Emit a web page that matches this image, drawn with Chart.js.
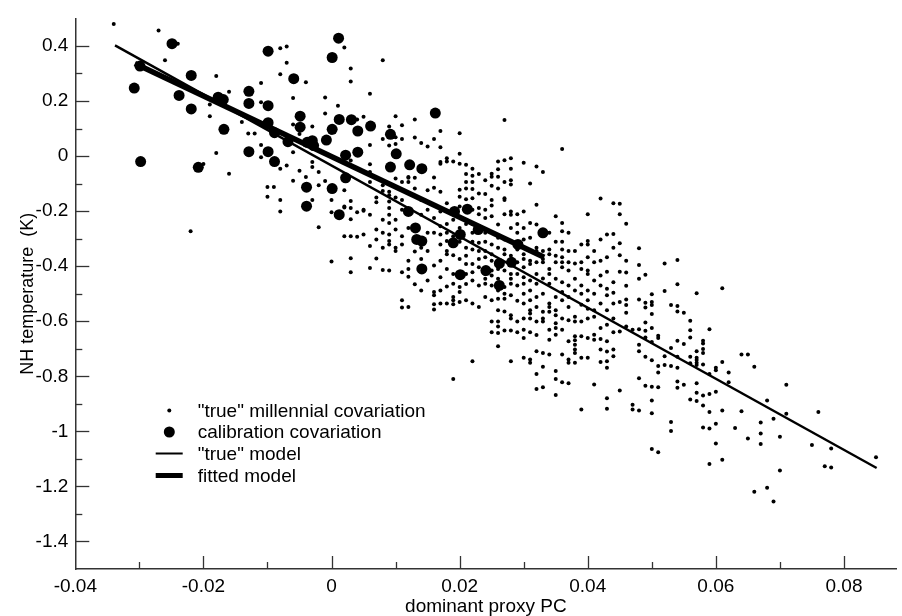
<!DOCTYPE html>
<html><head><meta charset="utf-8">
<script src="https://cdn.jsdelivr.net/npm/chart.js@4.4.1/dist/chart.umd.min.js"></script>
<style>html,body{margin:0;padding:0;background:#fff;} #wrap{width:902px;height:616px;position:relative;}</style>
</head><body><div id="wrap"><canvas id="c" width="902" height="616"></canvas></div>
<script>
const xMajorTicks = [-0.04, -0.02, 0, 0.02, 0.04, 0.06, 0.08];
const xMinorTicks = [-0.03, -0.01, 0.01, 0.03, 0.05, 0.07];
const yMajorTicks = [-1.4, -1.2, -1, -0.8, -0.6, -0.4, -0.2, 0, 0.2, 0.4];
const yMinorTicks = [-1.3, -1.1, -0.9, -0.7, -0.5, -0.3, -0.1, 0.1, 0.3];
const legendLabels = ['"true" millennial covariation', 'calibration covariation', '"true" model', 'fitted model'];
const xTitle = 'dominant proxy PC';
const yTitle = 'NH temperature  (K)';
const trueModelX = [-0.0338, 0.0851];
const trueModelY = [0.402, -1.133];
const fittedModelX = [-0.0307, 0.0332];
const fittedModelY = [0.336, -0.368];
const calibrationPts = [
[-0.0249,0.408],[-0.0299,0.327],[-0.0308,0.247],[-0.0298,-0.020],[-0.0219,0.293],[-0.0238,0.220],[-0.0219,0.171],
[-0.0177,0.214],[-0.0169,0.205],[-0.0168,0.097],[-0.0208,-0.041],[-0.0099,0.381],[-0.0059,0.281],[-0.0129,0.235],
[-0.0129,0.191],[-0.0099,0.183],[-0.0099,0.121],[-0.0089,0.085],[-0.0129,0.016],[-0.0099,0.016],[-0.0089,-0.020],
[-0.0068,0.052],[-0.0049,0.145],[-0.0049,0.105],[-0.0038,0.050],[-0.0028,0.038],[-0.0039,-0.113],[-0.0039,-0.182],
[0.0001,-0.118],[0.0012,-0.213],[0.0011,0.428],[0.0001,0.358],[-0.0008,0.058],[0.0001,0.097],[0.0012,0.133],
[0.0022,0.003],[0.0022,-0.079],[0.0031,0.132],[0.0041,0.091],[0.0061,0.109],[0.0162,0.156],[0.0092,0.079],
[0.0101,0.008],[0.0041,0.014],[-0.0030,0.056],[0.0092,-0.040],[0.0122,-0.032],[0.0141,-0.046],[0.0120,-0.201],
[0.0131,-0.261],[0.0133,-0.303],[0.0141,-0.309],[0.0141,-0.410],[0.0192,-0.201],[0.0212,-0.193],[0.0201,-0.285],
[0.0190,-0.315],[0.0201,-0.431],[0.0229,-0.267],[0.0241,-0.416],[0.0262,-0.390],[0.0281,-0.386],[0.0262,-0.470],
[0.0291,-0.321],[0.0330,-0.279]
];
const millennialColumns = [
[-0.034,[0.48]],[-0.027,[0.456]],[-0.026,[0.348]],[-0.024,[0.408]],[-0.022,[-0.273]],[-0.020,[-0.029]],
[-0.019,[0.187,0.145]],[-0.018,[0.291,0.011]],[-0.016,[0.234,-0.064]],[-0.014,[0.124]],[-0.013,[0.082]],[-0.012,[0.082]],
[-0.011,[0.265,0.195,0.040,-0.004]],[-0.010,[-0.112,-0.148]],[-0.009,[-0.112]],
[-0.008,[0.392,0.297,-0.160,-0.201,-0.046]],[-0.007,[0.398,0.339,-0.034]],[-0.006,[0.211,0.115,0.014,-0.090]],
[-0.005,[0.080,-0.053]],[-0.004,[0.268,-0.076]],[-0.003,[-0.022,-0.040,0.107,-0.160]],[-0.002,[-0.058,-0.106,-0.259]],
[-0.001,[0.213,0.155,-0.091]],[0,[0.085,-0.160,-0.204,-0.383]],[0.001,[0.183]],
[0.002,[0.394,-0.187,-0.291,-0.124,-0.183]],[0.003,[0.318,0.271,-0.163,-0.189,-0.230,-0.371,-0.422,-0.016,-0.291]],
[0.004,[0.133,-0.293,-0.204]],[0.005,[0.143,-0.195,-0.199,-0.285]],
[0.006,[0.226,0.121,0.040,-0.030,-0.058,-0.094,-0.213,-0.327,-0.407]],[0.007,[-0.151,-0.168,-0.267,-0.303,-0.372]],
[0.008,[0.348,-0.106,-0.127,0.062,-0.231,-0.279,-0.333,-0.414]],
[0.009,[0.107,0.038,-0.165,-0.189,-0.130,-0.142,-0.213,-0.243,-0.285,-0.309,-0.321,-0.416]],
[0.010,[0.145,0.044,0.014,-0.082,-0.151,0.068,-0.231,-0.267,-0.333,-0.345]],
[0.011,[0.112,0.062,-0.094,-0.160,-0.195,-0.291,-0.321,-0.422,-0.524,-0.550]],
[0.012,[-0.079,-0.094,-0.076,-0.261,-0.380,-0.410,-0.438,-0.548]],
[0.013,[0.133,0.067,-0.118,-0.079,-0.347,-0.466]],[0.014,[0.047,-0.160,-0.213,-0.333,-0.374,-0.488]],
[0.015,[0.035,-0.124,-0.195,-0.279,-0.345,-0.452]],
[0.016,[0.062,-0.078,-0.115,-0.225,-0.279,-0.398,-0.494,-0.506,-0.538,-0.557]],
[0.017,[0.091,0.032,-0.028,-0.130,-0.201,-0.255,-0.321,-0.440,-0.536,-0.022]],
[0.018,[-0.008,-0.020,-0.171,-0.309,-0.345,-0.357,-0.410,-0.474,-0.536]],
[0.019,[-0.020,-0.231,-0.291,-0.309,-0.428,-0.464,-0.512,-0.524,-0.538,-0.810]],
[0.020,[0.083,0.008,-0.122,-0.148,-0.261,-0.374,-0.476,-0.494,-0.028]],
[0.021,[-0.032,-0.094,-0.157,-0.333,-0.362,-0.392,-0.428,-0.524,-0.118]],
[0.022,[-0.072,-0.094,-0.120,-0.195,-0.339,-0.392,-0.422,-0.452,-0.536,-0.745,-0.153]],
[0.023,[-0.065,-0.189,-0.267,-0.315,-0.374,-0.404,-0.470,-0.548,-0.136]],
[0.024,[-0.088,-0.138,-0.195,-0.225,-0.279,-0.345,-0.368,-0.428,-0.446,-0.464,-0.512]],
[0.025,[-0.075,-0.108,-0.160,-0.180,-0.219,-0.321,-0.357,-0.380,-0.416,-0.434,-0.470,-0.601,-0.064]],
[0.026,[-0.020,-0.048,-0.075,-0.249,-0.297,-0.333,-0.410,-0.446,-0.488,-0.518,-0.601,-0.619,-0.643,-0.691]],
[0.027,[0.131,-0.015,-0.160,-0.303,-0.339,-0.357,-0.476,-0.500,-0.518,-0.634,-0.153]],
[0.028,[-0.008,-0.088,-0.103,-0.201,-0.213,-0.261,-0.309,-0.362,-0.428,-0.446,-0.464,-0.506,-0.578,-0.590,-0.634,-0.745]],
[0.029,[-0.321,-0.339,-0.386,-0.428,-0.470,-0.526,-0.601]],
[0.030,[-0.024,-0.201,-0.261,-0.303,-0.357,-0.374,-0.404,-0.440,-0.464,-0.500,-0.536,-0.631,-0.661,-0.733]],
[0.031,[-0.100,-0.243,-0.297,-0.380,-0.392,-0.452,-0.488,-0.560,-0.572,-0.590,-0.739,-0.751]],
[0.032,[-0.038,-0.177,-0.249,-0.333,-0.345,-0.386,-0.428,-0.464,-0.512,-0.548,-0.601,-0.709,-0.792,-0.846]],
[0.033,[-0.058,-0.345,-0.374,-0.386,-0.500,-0.566,-0.590,-0.601,-0.715,-0.765,-0.840]],
[0.034,[-0.339,-0.357,-0.410,-0.428,-0.464,-0.536,-0.548,-0.566,-0.631,-0.667,-0.721]],
[0.035,[-0.219,-0.362,-0.386,-0.446,-0.512,-0.560,-0.578,-0.607,-0.625,-0.649,-0.781,-0.810,-0.868]],
[0.036,[0.026,-0.243,-0.273,-0.339,-0.368,-0.386,-0.404,-0.458,-0.494,-0.524,-0.590,-0.631,-0.721,-0.822]],
[0.037,[-0.345,-0.386,-0.416,-0.470,-0.512,-0.548,-0.596,-0.673,-0.739,-0.751,-0.825]],
[0.038,[-0.345,-0.446,-0.488,-0.584,-0.601,-0.655,-0.669,-0.685,-0.703,-0.715,-0.751]],
[0.039,[-0.321,-0.386,-0.410,-0.470,-0.500,-0.601,-0.655,-0.733,-0.921]],
[0.040,[-0.211,-0.309,-0.321,-0.368,-0.416,-0.428,-0.488,-0.524,-0.590,-0.661,-0.733]],
[0.041,[-0.386,-0.452,-0.500,-0.560,-0.584,-0.649,-0.667,-0.830]],
[0.042,[-0.154,-0.303,-0.434,-0.470,-0.536,-0.625,-0.703,-0.748]],
[0.043,[-0.285,-0.368,-0.482,-0.506,-0.613,-0.673,-0.745,-0.769,-0.880,-0.918]],
[0.044,[-0.283,-0.333,-0.458,-0.536,-0.590,-0.703,-0.727,-0.171]],
[0.045,[-0.173,-0.211,-0.317,-0.360,-0.530,-0.637,-0.852]],
[0.046,[-0.246,-0.423,-0.471,-0.521,-0.541,-0.569,-0.619]],
[0.047,[-0.631,-0.903,-0.921]],
[0.048,[-0.335,-0.396,-0.446,-0.521,-0.629,-0.685,-0.709,-0.807,-0.924]],
[0.049,[-0.431,-0.533,-0.550,-0.605,-0.635,-0.659,-0.729,-0.834]],
[0.050,[-0.502,-0.530,-0.541,-0.574,-0.625,-0.675,-0.742,-0.838,-0.888,-0.934,-1.064]],
[0.051,[-0.653,-0.661,-0.763,-0.786,-0.840,-1.076]],
[0.052,[-0.390,-0.490,-0.727,-0.759]],
[0.053,[-0.541,-0.697,-0.763,-0.966,-0.999]],
[0.054,[-0.378,-0.466,-0.545,-0.565,-0.671,-0.729,-0.769,-0.819,-0.842]],
[0.055,[-0.569,-0.683,-0.831]],
[0.056,[-0.598,-0.633,-0.659,-0.729,-0.753,-0.884]],
[0.057,[-0.498,-0.709,-0.733,-0.741,-0.751,-0.759,-0.825,-0.860,-0.890]],
[0.058,[-0.671,-0.681,-0.701,-0.715,-0.757,-0.870,-0.906,-0.986]],
[0.059,[-0.629,-0.792,-0.864,-0.930,-0.990,-1.119]],
[0.060,[-0.769,-0.778,-0.856,-0.972,-1.044]],
[0.061,[-0.480,-0.748,-0.924,-1.103]],
[0.062,[-0.786,-0.822]],[0.063,[-0.988]],[0.064,[-0.721,-0.927]],[0.065,[-0.721,-1.026]],[0.066,[-0.765,-1.219]],
[0.067,[-0.968,-1.008,-1.046]],[0.068,[-0.888,-1.205]],[0.069,[-0.954,-1.255]],[0.070,[-1.020,-1.142]],
[0.071,[-0.831,-0.936]],[0.075,[-1.050]],[0.076,[-0.930]],[0.077,[-1.127]],[0.078,[-1.062,-1.131]],[0.085,[-1.094]]
];
// further readings from the dense centre of the cloud
const millennialColumnsDense = [
[0.017,[-0.285,-0.380,-0.488]],[0.018,[-0.247,-0.279]],[0.019,[-0.360]],[0.020,[-0.183,-0.311,-0.420,-0.530]],
[0.021,[-0.065,-0.247,-0.465]],[0.022,[-0.046,-0.247,-0.279,-0.311]],[0.023,[-0.211,-0.345]],[0.024,[-0.311]],
[0.025,[-0.524,-0.640]],[0.026,[-0.118,-0.560]],[0.027,[-0.094,-0.211,-0.416,-0.565]],[0.028,[-0.046]],
[0.029,[-0.211,-0.247,-0.279,-0.640]],[0.030,[-0.590]],[0.031,[-0.345,-0.524,-0.640]],[0.032,[-0.650]],
[0.033,[-0.279,-0.445]],[0.034,[-0.279]],[0.035,[-0.311]],[0.036,[-0.311]],[0.037,[-0.279]],[0.038,[-0.390]],
[0.039,[-0.540]],[0.040,[-0.555]],[0.041,[-0.345]],[0.042,[-0.380,-0.665]],[0.043,[-0.420,-0.560,-0.710]],
[0.044,[-0.497,-0.640]],[0.045,[-0.420]],[0.046,[-0.380]]
];

const millennialData = [];
millennialColumns.concat(millennialColumnsDense).forEach(([x, ys]) => ys.forEach(y => millennialData.push({x, y})));
const calibrationData = calibrationPts.map(([x, y]) => ({x, y}));
const trueModelData = trueModelX.map((x, i) => ({x, y: trueModelY[i]}));
const fittedModelData = fittedModelX.map((x, i) => ({x, y: fittedModelY[i]}));

const FONT = 'Liberation Sans, Arial, Helvetica, sans-serif';
const near = (a, b) => Math.abs(a - b) < 1e-7;
const xAllTicks = xMajorTicks.concat(xMinorTicks).sort((a, b) => a - b);
const yAllTicks = yMajorTicks.concat(yMinorTicks).sort((a, b) => a - b);

const axisDecor = {
  id: 'axisDecor',
  afterDraw(chart) {
    const ctx = chart.ctx, xs = chart.scales.x, ys = chart.scales.y, a = chart.chartArea;
    ctx.save();
    ctx.strokeStyle = '#333';
    ctx.lineWidth = 1.3;
    xAllTicks.forEach(v => {
      if (near(v, xs.min)) return;
      const major = xMajorTicks.some(m => near(m, v));
      const px = Math.round(xs.getPixelForValue(v)) + 0.5;
      ctx.beginPath(); ctx.moveTo(px, a.bottom); ctx.lineTo(px, a.bottom - (major ? 13 : 7)); ctx.stroke();
    });
    yAllTicks.forEach(v => {
      const major = yMajorTicks.some(m => near(m, v));
      const py = Math.round(ys.getPixelForValue(v)) + 0.5;
      ctx.beginPath(); ctx.moveTo(a.left, py); ctx.lineTo(a.left + (major ? 14 : 7), py); ctx.stroke();
    });
    // legend
    const lx = 155.7, lx2 = 182.7, cx = 169.3, tx = 197.7;
    const rows = [410.5, 432, 453.5, 475.5];
    ctx.fillStyle = '#000';
    ctx.beginPath(); ctx.arc(cx, rows[0], 2, 0, Math.PI * 2); ctx.fill();
    ctx.beginPath(); ctx.arc(cx, rows[1], 5.5, 0, Math.PI * 2); ctx.fill();
    ctx.strokeStyle = '#000';
    ctx.lineWidth = 2; ctx.beginPath(); ctx.moveTo(lx, rows[2]); ctx.lineTo(lx2, rows[2]); ctx.stroke();
    ctx.lineWidth = 5; ctx.beginPath(); ctx.moveTo(lx, rows[3]); ctx.lineTo(lx2, rows[3]); ctx.stroke();
    ctx.font = '19px ' + FONT;
    ctx.textBaseline = 'middle';
    ctx.textAlign = 'left';
    legendLabels.forEach((s, i) => ctx.fillText(s, tx, rows[i] + 1));
    ctx.restore();
  }
};

new Chart(document.getElementById('c'), {
  type: 'scatter',
  data: {
    datasets: [
      {label: legendLabels[2], data: trueModelData, showLine: true, borderColor: '#000', borderWidth: 2.4, pointRadius: 0, order: 0},
      {label: legendLabels[3], data: fittedModelData, showLine: true, borderColor: '#000', borderWidth: 5.5, pointRadius: 0, order: 0, borderCapStyle: 'butt'},
      {label: legendLabels[1], data: calibrationData, pointRadius: 5.5, pointBackgroundColor: '#000', pointBorderWidth: 0, order: 1},
      {label: legendLabels[0], data: millennialData, pointRadius: 2, pointBackgroundColor: '#000', pointBorderWidth: 0, order: 2}
    ]
  },
  options: {
    responsive: false,
    animation: false,
    devicePixelRatio: 1,
    layout: {padding: {left: 0, top: 11, right: 2, bottom: 0}},
    plugins: {legend: {display: false}, tooltip: {enabled: false}},
    scales: {
      x: {
        type: 'linear', min: -0.04, max: 0.0882,
        afterFit(s) { s.height = 47; },
        afterBuildTicks(s) { s.ticks = xMajorTicks.map(value => ({value})); },
        grid: {display: false, drawTicks: false},
        border: {display: true, color: '#333', width: 1.5},
        ticks: {
          autoSkip: false, maxRotation: 0, padding: 6, color: '#000',
          font: {family: FONT, size: 19},
          callback: v => String(Math.round(v * 1000) / 1000)
        },
        title: {display: true, text: xTitle, color: '#000', font: {family: FONT, size: 19, lineHeight: 1}, padding: {top: 0, bottom: 0}}
      },
      y: {
        type: 'linear', min: -1.5, max: 0.5,
        afterFit(s) { s.width = 75.3; },
        afterBuildTicks(s) { s.ticks = yMajorTicks.map(value => ({value})); },
        grid: {display: false, drawTicks: false},
        border: {display: true, color: '#333', width: 1.5},
        ticks: {
          autoSkip: false, padding: 7, color: '#000',
          font: {family: FONT, size: 19},
          callback: v => String(Math.round(v * 100) / 100)
        },
        title: {display: true, text: yTitle, color: '#000', font: {family: FONT, size: 18, lineHeight: 1}, padding: {top: 19, bottom: 0}}
      }
    }
  },
  plugins: [axisDecor]
});
</script>
</body></html>
